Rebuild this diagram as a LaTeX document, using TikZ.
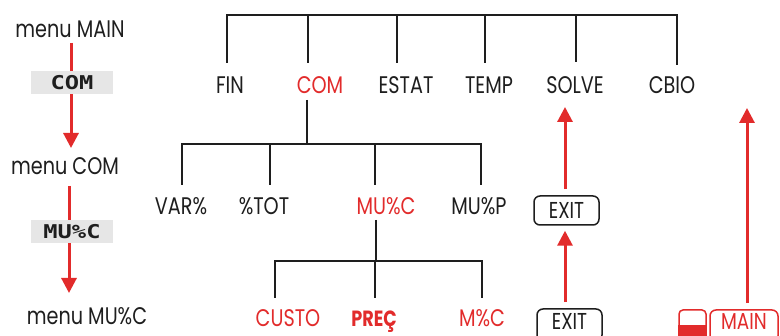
\documentclass[tikz,border=0pt]{standalone}
\usepackage{fontspec}
\setmainfont[FakeStretch=0.8]{Poppins}
\newfontfamily\lcd[FakeStretch=1.25]{DejaVu Sans Mono}
\usetikzlibrary{arrows.meta}
\definecolor{hpred}{RGB}{226,43,43}
\definecolor{lcdgray}{RGB}{230,230,230}
\definecolor{ink}{RGB}{30,30,30}
\begin{document}
\begin{tikzpicture}[x=1pt,y=-1pt,
  lbl/.style={inner sep=0pt, text=ink, font=\fontsize{24}{24}\selectfont, text height=16pt, text depth=0pt},
  rlbl/.style={lbl, text=hpred},
  tree/.style={line width=2pt, draw=ink, line cap=butt, line join=miter},
  redarrow/.style={line width=3pt, draw=hpred, -{Triangle[width=15pt,length=15pt]}},
  lcdbox/.style={fill=lcdgray, minimum width=82pt, minimum height=23pt, inner sep=0pt, text=ink, font=\lcd\bfseries\fontsize{19}{19}\selectfont},
  keybox/.style={draw=ink, line width=1.5pt, rounded corners=6pt, minimum width=65pt, minimum height=29pt, inner sep=0pt},
  rkeybox/.style={keybox, draw=hpred},
  keytext/.style={lbl, font=\fontsize{23}{23}\selectfont},
  rkeytext/.style={keytext, text=hpred}
]
\useasboundingbox (0,0) rectangle (780,336);
\fill[white] (0,0) rectangle (780,336);

% ---- top level menu
\node[lbl]  (fin)   at (230,86) {FIN};
\node[rlbl] (com)   at (320,86) {COM};
\node[lbl]  (estat) at (406,86) {ESTAT};
\node[lbl]  (temp)  at (489,86) {TEMP};
\node[lbl]  (solve) at (575,86) {SOLVE};
\node[lbl]  (cbio)  at (672,86) {CBIO};
% ---- COM menu
\node[lbl]  (var)   at (181,207) {VAR\%};
\node[lbl]  (tot)   at (264,207) {\%TOT};
\node[rlbl] (muc)   at (386,207) {MU\%C};
\node[lbl]  (mup)   at (479,207) {MU\%P};
% ---- MU%C menu
\node[rlbl] (custo) at (288,319) {CUSTO};
\node[rlbl, font=\bfseries\fontsize{22}{22}\selectfont] (prec) at (374,319) {PREÇ};
\node[rlbl] (mpc)   at (482,319) {M\%C};

% ---- tree connectors
\coordinate (bar1) at (0,15);
\coordinate (fin-top)   at (227,63);
\coordinate (com-top)   at (308,63);
\coordinate (estat-top) at (397,63);
\coordinate (temp-top)  at (485,63);
\coordinate (solve-top) at (576,62);
\coordinate (cbio-top)  at (677,65);
\draw[tree] (fin-top) -- (fin-top |- bar1) -- (cbio-top |- bar1) -- (cbio-top);
\foreach \n in {com-top,estat-top,temp-top,solve-top} \draw[tree] (\n) -- (\n |- bar1);

\coordinate (bar2) at (0,144);
\coordinate (com-bot) at (307,100);
\coordinate (var-top) at (182,185);
\coordinate (tot-top) at (270,185);
\coordinate (muc-top) at (375,185);
\coordinate (mup-top) at (481,185);
\draw[tree] (com-bot) -- (com-bot |- bar2);
\draw[tree] (var-top) -- (var-top |- bar2) -- (mup-top |- bar2) -- (mup-top);
\foreach \n in {tot-top,muc-top} \draw[tree] (\n) -- (\n |- bar2);

\coordinate (bar3) at (0,261);
\coordinate (muc-bot)   at (376,220);
\coordinate (custo-top) at (275,298);
\coordinate (prec-top)  at (375,298);
\coordinate (mpc-top)   at (482,298);
\draw[tree] (muc-bot) -- (muc-bot |- bar3);
\draw[tree] (custo-top) -- (custo-top |- bar3) -- (mpc-top |- bar3) -- (mpc-top);
\draw[tree] (prec-top) -- (prec-top |- bar3);

% ---- left column
\node[lbl] (mmain) at (70,30) {menu MAIN};
\node[lbl] (mcom)  at (65,167) {menu COM};
\node[lbl] (mmuc)  at (87,317) {menu MU\%C};
\coordinate (la1) at (71,43);
\coordinate (la1e) at (71,148);
\coordinate (la2) at (69,186);
\coordinate (la2e) at (69,293);
\draw[redarrow] (la1) -- (la1e);
\draw[redarrow] (la2) -- (la2e);
\node[lcdbox] (kcom) at (72,82.5) {COM};
\node[lcdbox] (kmuc) at (72,231.5) {MU\%C};

% ---- right side keys
\node[keybox] (exit1) at (566.5,210.5) {};
\node[keytext] (exit1t) at (exit1.center) {EXIT};
\node[keybox, minimum height=32pt] (exit2) at (569.5,325) {};
\node[keytext] (exit2t) at (569.5,322) {EXIT};
\node[rkeybox, minimum width=68pt, minimum height=32pt] (kmain) at (744,326) {};
\node[rkeytext] (kmaint) at (744,321.5) {MAIN};
\node[draw=hpred, line width=1.5pt, rounded corners=4pt, minimum width=27pt, minimum height=32pt, inner sep=0pt] (shift) at (692.5,326) {};
\fill[hpred] (shift.west |- 0,326) rectangle (shift.south east);
\draw[hpred, line width=1.5pt] (shift.west |- 0,326) -- (shift.east |- 0,326);

\coordinate (mtop) at (747,108);
\draw[redarrow, shorten <=6pt] ([xshift=-1.5pt]exit1.north) -- ([xshift=-1.5pt]exit1.north |- 0,107);
\draw[redarrow, shorten <=6pt, shorten >=5pt] ([xshift=-4.5pt]exit2.north) -- ([xshift=-1.5pt]exit1.south);
\draw[redarrow, shorten <=6pt] (kmain.north -| mtop) -- (mtop);
\end{tikzpicture}
\end{document}
